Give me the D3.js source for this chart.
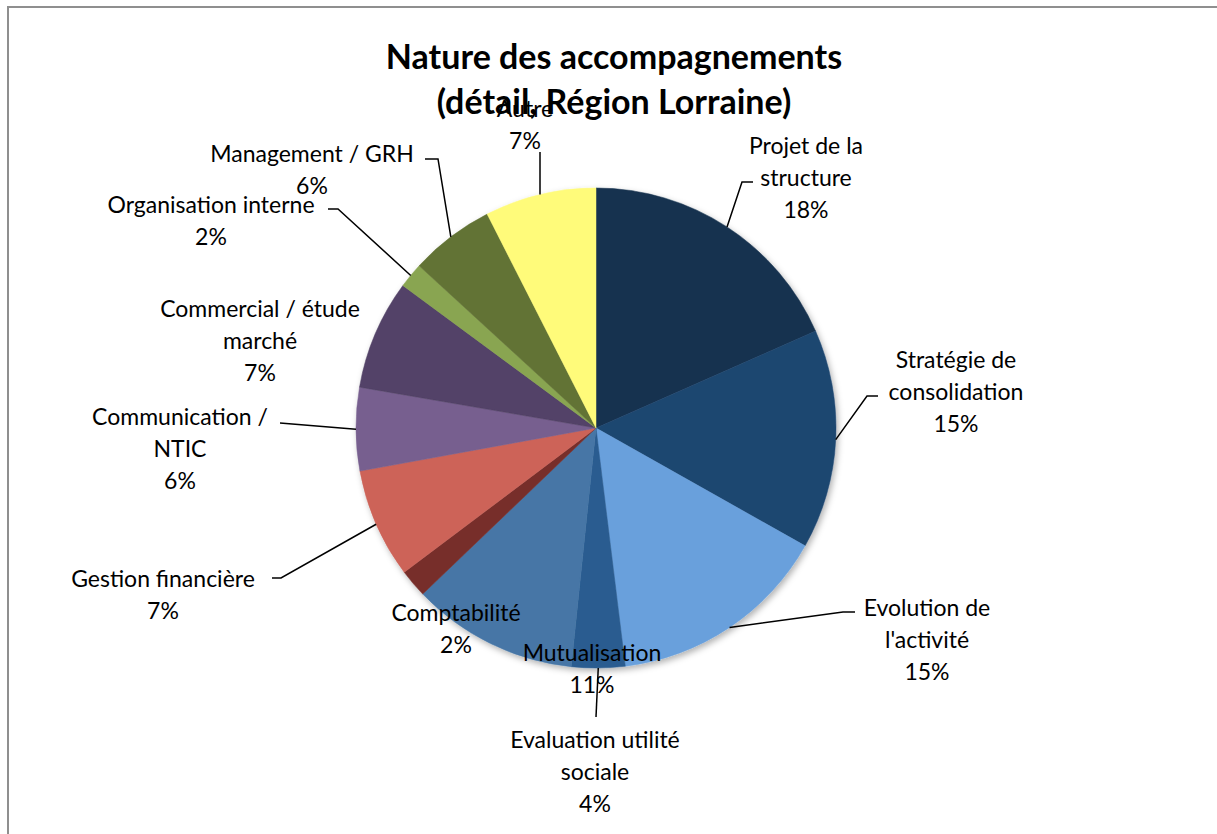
<!DOCTYPE html>
<html lang="fr">
<head>
<meta charset="utf-8">
<title>Nature des accompagnements</title>
<script src="https://cdn.jsdelivr.net/npm/d3@7"></script>
<style>
  body { margin: 0; background: #fff; }
  text { font-family: Lato, "Open Sans", sans-serif; fill: #000; }
</style>
</head>
<body>
<div id="chart"></div>
<script>
// données (en %)
var categories = ["Projet de la structure", "Stratégie de consolidation", "Evolution de l'activité",
  "Evaluation utilité sociale", "Mutualisation", "Comptabilité", "Gestion financière",
  "Communication / NTIC", "Commercial / étude marché", "Organisation interne", "Management / GRH", "Autre"];
var values = [18.4, 14.8, 14.9, 3.6, 11.2, 1.9, 7.4, 5.6, 7.4, 1.7, 5.7, 7.5];
var labelLines = [["Projet de la", "structure"], ["Stratégie de", "consolidation"], ["Evolution de", "l'activité"],
  ["Evaluation utilité", "sociale"], ["Mutualisation"], ["Comptabilité"], ["Gestion financière"],
  ["Communication /", "NTIC"], ["Commercial / étude", "marché"], ["Organisation interne"], ["Management / GRH"], ["Autre"]];
var colors = ["#17324f", "#1f4770", "#69a0dc", "#2a5c90", "#4676a6", "#772f2c", "#cd6459",
  "#775f8f", "#524267", "#89a551", "#627335", "#fffb7a"];
var titleLines = ["Nature des accompagnements", "(détail, Région Lorraine)"];

// mise en page des étiquettes (centre de la 1re ligne) et des traits de rappel
var labelPos = [[806, 145], [956, 359], [927, 607], [595, 739], [592, 652], [456, 612],
  [163, 578], [180, 416], [260, 308], [211, 204], [312, 153], [525, 108]];
var leaders = [
  [[753, 182], [742, 182]],
  [[878, 396], [867, 396]],
  [[855, 612], [843, 612]],
  [[596, 717]],
  null, null,
  [[272, 578], [281, 578]],
  [[280, 423]],
  null,
  [[328, 209], [338, 209]],
  [[425, 159], [438, 159]],
  [[540, 152]]
];

var W = 1217, H = 834, cx = 596, cy = 428, R = 240, lineH = 32;

var svg = d3.select("#chart").append("svg")
  .attr("width", W).attr("height", H);

var defs = svg.append("defs");
var f = defs.append("filter").attr("id", "shadow")
  .attr("x", "-10%").attr("y", "-10%").attr("width", "120%").attr("height", "120%");
f.append("feDropShadow").attr("dx", 2).attr("dy", 3).attr("stdDeviation", 3)
  .attr("flood-color", "#000").attr("flood-opacity", 0.3);

// cadre
svg.append("rect")
  .attr("x", 8).attr("y", 7).attr("width", 1400).attr("height", 1000)
  .attr("fill", "none").attr("stroke", "#8f8f8f").attr("stroke-width", 2);

// titre
svg.append("text")
  .attr("x", 614).attr("text-anchor", "middle")
  .style("font-size", "34px").style("font-weight", "bold")
  .selectAll("tspan").data(titleLines).enter().append("tspan")
  .attr("x", 614).attr("y", function(d, i) { return 55 + i * 45; })
  .attr("dominant-baseline", "central")
  .text(function(d) { return d; });

var data = categories.map(function(c, i) {
  return { name: c, value: values[i], color: colors[i], lines: labelLines[i], pos: labelPos[i], leader: leaders[i] };
});
var total = d3.sum(values);
var pct = d3.format(".0%");

var pie = d3.pie().sort(null).value(function(d) { return d.value; });
var arc = d3.arc().innerRadius(0).outerRadius(R);
var arcs = pie(data);

var g = svg.append("g").attr("transform", "translate(" + cx + "," + cy + ")");

g.append("g").attr("filter", "url(#shadow)")
  .selectAll("path").data(arcs).enter().append("path")
  .attr("d", arc)
  .attr("fill", function(d) { return d.data.color; })
  .attr("stroke", function(d) { return d.data.color; })
  .attr("stroke-width", 0.5);

// traits de rappel
var line = d3.line();
svg.append("g").selectAll("path")
  .data(arcs.filter(function(d) { return d.data.leader; }))
  .enter().append("path")
  .attr("d", function(d) {
    var a = (d.startAngle + d.endAngle) / 2;
    var edge = [cx + R * Math.sin(a), cy - R * Math.cos(a)];
    return line(d.data.leader.concat([edge]));
  })
  .attr("fill", "none").attr("stroke", "#000").attr("stroke-width", 1.5);

// étiquettes
var lbl = svg.append("g").selectAll("text").data(arcs).enter().append("text")
  .attr("text-anchor", "middle")
  .style("font-size", "23px");
lbl.selectAll("tspan")
  .data(function(d) { return d.data.lines.concat([pct(d.data.value / total)]).map(function(t, i) {
    return { t: t, i: i, p: d.data.pos };
  }); })
  .enter().append("tspan")
  .attr("x", function(d) { return d.p[0]; })
  .attr("y", function(d) { return d.p[1] + d.i * lineH; })
  .attr("dominant-baseline", "central")
  .text(function(d) { return d.t; });
</script>
</body>
</html>
